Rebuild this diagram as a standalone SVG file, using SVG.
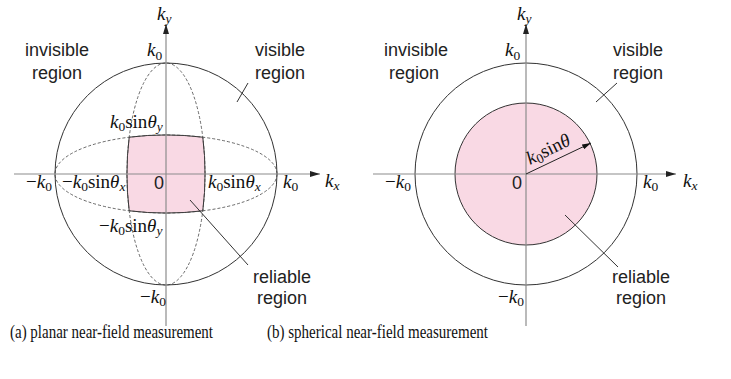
<svg xmlns="http://www.w3.org/2000/svg" width="731" height="379" viewBox="0 0 731 379">
<defs>
<style>
.axis{stroke:#8c8c8c;stroke-width:1.2;fill:none}
.circ{stroke:#333;stroke-width:1;fill:none}
.dash{stroke:#444;stroke-width:0.8;fill:none;stroke-dasharray:3 2}
.pink{fill:#f9d9e4;stroke:#333;stroke-width:1}
.lead{stroke:#333;stroke-width:1;fill:none}
.sans{font-family:"Liberation Sans",Arial,sans-serif;font-size:18px;fill:#222}
.m{font-family:"Liberation Serif","Times New Roman",serif;font-size:19px;fill:#111}
.i{font-style:italic}
.s{font-size:13.5px}
.cap{font-family:"Liberation Serif","Times New Roman",serif;font-size:18px;fill:#111}
</style>
<marker id="ah" viewBox="0 0 10 6" refX="10" refY="3" markerWidth="10" markerHeight="6" markerUnits="userSpaceOnUse" orient="auto">
<path d="M0,0 L10,3 L0,6 Z" fill="#222"/>
</marker>
<marker id="ah2" viewBox="0 0 10 6" refX="10" refY="3" markerWidth="9" markerHeight="6" markerUnits="userSpaceOnUse" orient="auto">
<path d="M0,0 L10,3 L0,6 Z" fill="#111"/>
</marker>
</defs>

<!-- Left diagram: planar -->
<g id="planar">
  <g id="planar-reliable">
    <path class="pink" d="M129.2,137.2 A111,39 0 0 1 202.8,137.2 A39,111 0 0 1 202.8,210.8 A111,39 0 0 1 129.2,210.8 A39,111 0 0 1 129.2,137.2 Z"/>
  </g>
  <g id="planar-ellipses">
    <ellipse class="dash" cx="166" cy="174" rx="39" ry="111"/>
    <ellipse class="dash" cx="166" cy="174" rx="111" ry="39"/>
  </g>
  <g id="planar-circle">
    <circle class="circ" cx="166" cy="174" r="111"/>
  </g>
  <g id="planar-axes">
    <line class="axis" x1="14" y1="174" x2="320" y2="174" marker-end="url(#ah)"/>
    <line class="axis" x1="166" y1="326" x2="166" y2="24" marker-end="url(#ah)"/>
  </g>
  <g id="planar-labels">
    <text class="m" x="157" y="20"><tspan class="i">k</tspan><tspan class="i s" dy="3">y</tspan></text>
    <text class="m" x="325" y="187"><tspan class="i">k</tspan><tspan class="i s" dy="3">x</tspan></text>
    <text class="m" x="147" y="56"><tspan class="i">k</tspan><tspan class="s" dy="4">0</tspan></text>
    <text class="m" x="110" y="128"><tspan class="i">k</tspan><tspan class="s" dy="3">0</tspan><tspan dy="-3">sin</tspan><tspan class="i">θ</tspan><tspan class="i s" dy="3">y</tspan></text>
    <text class="m" x="26" y="188">−<tspan class="i">k</tspan><tspan class="s" dy="3">0</tspan></text>
    <text class="m" x="62" y="188">−<tspan class="i">k</tspan><tspan class="s" dy="3">0</tspan><tspan dy="-3">sin</tspan><tspan class="i">θ</tspan><tspan class="i s" dy="3">x</tspan></text>
    <text class="sans" x="159" y="189" text-anchor="middle">0</text>
    <text class="m" x="208" y="188"><tspan class="i">k</tspan><tspan class="s" dy="3">0</tspan><tspan dy="-3">sin</tspan><tspan class="i">θ</tspan><tspan class="i s" dy="3">x</tspan></text>
    <text class="m" x="283" y="188"><tspan class="i">k</tspan><tspan class="s" dy="3">0</tspan></text>
    <text class="m" x="99" y="232">−<tspan class="i">k</tspan><tspan class="s" dy="3">0</tspan><tspan dy="-3">sin</tspan><tspan class="i">θ</tspan><tspan class="i s" dy="3">y</tspan></text>
    <text class="m" x="140" y="303">−<tspan class="i">k</tspan><tspan class="s" dy="3">0</tspan></text>
    <text class="sans" x="57" y="56" text-anchor="middle">invisible</text>
    <text class="sans" x="57" y="79" text-anchor="middle">region</text>
    <text class="sans" x="280" y="56" text-anchor="middle">visible</text>
    <text class="sans" x="280" y="79" text-anchor="middle">region</text>
    <text class="sans" x="282" y="283" text-anchor="middle">reliable</text>
    <text class="sans" x="282" y="304" text-anchor="middle">region</text>
  </g>
</g>

<!-- Right diagram: spherical -->
<g id="spherical">
  <g id="spherical-reliable">
    <circle class="pink" cx="526" cy="174" r="71"/>
  </g>
  <g id="spherical-circle">
    <circle class="circ" cx="526" cy="174" r="111"/>
  </g>
  <g id="spherical-axes">
    <line class="axis" x1="373" y1="174" x2="676" y2="174" marker-end="url(#ah)"/>
    <line class="axis" x1="526" y1="326" x2="526" y2="24" marker-end="url(#ah)"/>
  </g>
  <g id="spherical-labels">
    <text class="m" x="517" y="20"><tspan class="i">k</tspan><tspan class="i s" dy="3">y</tspan></text>
    <text class="m" x="683" y="187"><tspan class="i">k</tspan><tspan class="i s" dy="3">x</tspan></text>
    <text class="m" x="505" y="56"><tspan class="i">k</tspan><tspan class="s" dy="4">0</tspan></text>
    <text class="m" x="385" y="188">−<tspan class="i">k</tspan><tspan class="s" dy="3">0</tspan></text>
    <text class="sans" x="517" y="189" text-anchor="middle">0</text>
    <text class="m" x="643" y="188"><tspan class="i">k</tspan><tspan class="s" dy="3">0</tspan></text>
    <text class="m" x="498" y="303">−<tspan class="i">k</tspan><tspan class="s" dy="3">0</tspan></text>
    <text class="m" x="530" y="165" transform="rotate(-26 530 165)"><tspan class="i">k</tspan><tspan class="s" dy="3">0</tspan><tspan dy="-3">sin</tspan><tspan class="i">θ</tspan></text>
    <text class="sans" x="416" y="56" text-anchor="middle">invisible</text>
    <text class="sans" x="414" y="79" text-anchor="middle">region</text>
    <text class="sans" x="638" y="56" text-anchor="middle">visible</text>
    <text class="sans" x="638" y="79" text-anchor="middle">region</text>
    <text class="sans" x="641" y="283" text-anchor="middle">reliable</text>
    <text class="sans" x="641" y="304" text-anchor="middle">region</text>
  </g>
</g>

<g id="connectors">
  <line class="lead" x1="248" y1="83" x2="237" y2="102"/>
  <line class="lead" x1="190" y1="200" x2="248" y2="265"/>
  <line class="lead" x1="617" y1="83" x2="596" y2="102"/>
  <line class="lead" x1="565" y1="215" x2="618" y2="267"/>
  <line x1="526" y1="174" x2="591" y2="143" stroke="#222" stroke-width="1" marker-end="url(#ah2)"/>
</g>

<g id="captions">
  <text class="cap" x="10" y="338" textLength="203" lengthAdjust="spacingAndGlyphs">(a) planar near-field measurement</text>
  <text class="cap" x="267" y="338" textLength="221" lengthAdjust="spacingAndGlyphs">(b) spherical near-field measurement</text>
</g>
</svg>
